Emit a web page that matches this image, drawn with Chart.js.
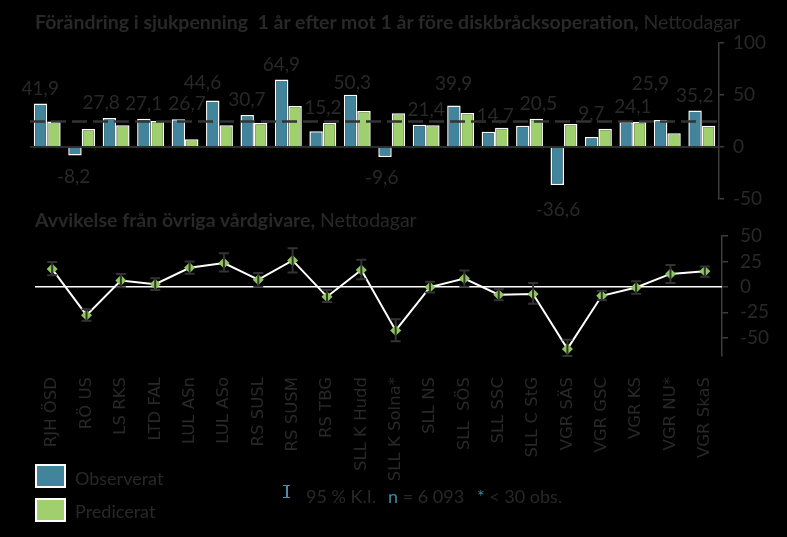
<!DOCTYPE html>
<html>
<head>
<meta charset="utf-8">
<script src="https://cdn.jsdelivr.net/npm/chart.js@4.4.1/dist/chart.umd.min.js"></script>
<style>
  html, body { margin: 0; padding: 0; background: #000; }
  #wrap { position: relative; width: 787px; height: 537px; background: #000; overflow: hidden;
          font-family: Lato, sans-serif; color: #282828; }
  canvas { position: absolute; left: 0; }
  .txt { position: absolute; white-space: pre; line-height: 1; font-size: 18px; }
  .head { font-size: 19.5px; }
  .box { position: absolute; left: 35px; width: 27px; height: 20px; border: 2px solid #fff; }
  .blue { color: #3f86a0; }
  .ci { position: absolute; left: 283px; top: 485px; width: 7px; height: 11px;
        border-top: 1.5px solid #4a8da8; border-bottom: 1.5px solid #4a8da8; }
  .ci::after { content: ''; position: absolute; left: 3px; top: 0; width: 1.5px; height: 11px; background: #4a8da8; }
</style>
</head>
<body>
<div id="wrap">
  <canvas id="top" width="787" height="230" style="top:0"></canvas>
  <canvas id="bottom" width="787" height="327" style="top:210px"></canvas>

  <div class="txt head" style="left:35px;top:12px"><b>Förändring i sjukpenning  1 år efter mot 1 år före diskbråcksoperation,</b> Nettodagar</div>
  <div class="txt head" style="left:35px;top:210px"><b>Avvikelse från övriga vårdgivare,</b> Nettodagar</div>

  <div class="box" style="top:464px;background:#41849b"></div>
  <div class="txt" style="left:75px;top:469px">Observerat</div>
  <div class="box" style="top:498px;background:#9fd06d"></div>
  <div class="txt" style="left:75px;top:502px">Predicerat</div>

  <div class="ci"></div>
  <div class="txt" style="left:306px;top:487px">95 % K.I.</div>
  <div class="txt" style="left:388px;top:487px"><span class="blue">n</span> = 6 093</div>
  <div class="txt" style="left:477px;top:487px"><span class="blue">*</span> &lt; 30 obs.</div>
</div>

<script>
// Enheter (vårdgivare)
var units = ['RJH ÖSD', 'RÖ US', 'LS RKS', 'LTD FAL', 'LUL ASn', 'LUL ASo', 'RS SUSL', 'RS SUSM',
             'RS TBG', 'SLL K Hudd', 'SLL K Solna*', 'SLL NS', 'SLL  SÖS', 'SLL SSC', 'SLL C StG',
             'VGR SÄS', 'VGR GSC', 'VGR KS', 'VGR NU*', 'VGR SkaS'];

// Förändring i sjukpenning, nettodagar
var observed  = [41.9, -8.2, 27.8, 27.1, 26.7, 44.6, 30.7, 64.9, 15.2, 50.3,
                 -9.6, 21.4, 39.9, 14.7, 20.5, -36.6, 9.7, 24.1, 25.9, 35.2];
var predicted = [24.6, 17.2, 21.0, 25.0, 7.4, 21.0, 23.0, 39.5, 23.0, 34.6,
                 32.4, 21.0, 32.7, 18.4, 27.2, 22.0, 17.5, 24.0, 13.3, 20.4];
var overallMean = 24.6;   // streckad referenslinje

// Avvikelse från övriga vårdgivare med 95 % K.I.
var deviation = [17.5, -27.9, 6.2, 2.6, 18.8, 23.4, 7.1, 26.0, -9.7, 16.6,
                 -42.9, -0.3, 8.1, -7.8, -7.1, -61.0, -8.8, -0.6, 12.7, 15.3];
var ciLow  = [11.4, -33.4, -0.3, -3.2, 13.0, 15.0, 0.0, 14.0, -15.0, 7.5,
              -53.6, -5.5, 0.0, -13.3, -16.5, -68.0, -13.0, -6.8, 3.9, 10.0];
var ciHigh = [24.4, -22.0, 12.7, 8.4, 25.0, 33.0, 13.6, 38.0, -3.0, 26.6,
              -31.8, 5.0, 16.0, -2.3, 3.9, -52.0, -4.2, 5.5, 21.4, 20.0];

var topTicks = [100, 50, 0, -50];
var bottomTicks = [50, 25, 0, -25, -50];

// handflyttade etiketter i originalet: förskjutning [dx, dy] i pixlar
var labelNudge = [[-7, 0], [-8, 0], [-15, 0], [-7, 0], [2, 0], [-17, -3], [-7, 0], [-7, 0], [0, 0], [-5, 3],
                  [-10, 0], [0, 0], [-7, -7], [0, 3], [9, 0], [-6, 4], [-7, 0], [0, 0], [-17, -21], [-7, 0]];

var TEXT = '#282828';
var AXIS = '#3d3d3d';
var BLUE = '#41849b';
var GREEN = '#9fd06d';

function fmt(v) {
    return String(v.toFixed(1)).replace('.', ',');
}

// Nollinje, streckad medellinje och värdeetiketter i övre diagrammet
var topDecor = {
    id: 'topDecor',
    afterDatasetsDraw: function(chart) {
        var ctx = chart.ctx, area = chart.chartArea, y = chart.scales.y;
        ctx.save();
        ctx.strokeStyle = AXIS;
        ctx.lineWidth = 1.5;
        ctx.beginPath();
        ctx.moveTo(area.left, y.getPixelForValue(0));
        ctx.lineTo(area.right, y.getPixelForValue(0));
        ctx.stroke();

        ctx.strokeStyle = '#333';
        ctx.lineWidth = 2.5;
        ctx.setLineDash([15, 6]);
        ctx.beginPath();
        ctx.moveTo(area.left, y.getPixelForValue(overallMean));
        ctx.lineTo(area.right, y.getPixelForValue(overallMean));
        ctx.stroke();
        ctx.setLineDash([]);

        var obs = chart.getDatasetMeta(0).data;
        var pred = chart.getDatasetMeta(1).data;
        ctx.fillStyle = TEXT;
        ctx.font = '19px Lato';
        ctx.textAlign = 'center';
        ctx.textBaseline = 'middle';
        for (var i = 0; i < observed.length; i++) {
            var x = (obs[i].x + pred[i].x) / 2 + labelNudge[i][0];
            var ly;
            if (observed[i] >= 0) {
                ly = Math.min(obs[i].y, pred[i].y) - 15;
            } else {
                ly = obs[i].y + 21;
            }
            ctx.fillText(fmt(observed[i]), x, ly + labelNudge[i][1]);
        }
        ctx.restore();
    }
};

// Vit nollinje och felstaplar i nedre diagrammet
var bottomDecor = {
    id: 'bottomDecor',
    beforeDatasetsDraw: function(chart) {
        var ctx = chart.ctx, area = chart.chartArea, y = chart.scales.y;
        ctx.save();
        ctx.strokeStyle = '#fff';
        ctx.lineWidth = 1.5;
        ctx.beginPath();
        ctx.moveTo(area.left, y.getPixelForValue(0));
        ctx.lineTo(area.right, y.getPixelForValue(0));
        ctx.stroke();
        ctx.restore();
    },
    afterDatasetsDraw: function(chart) {
        var ctx = chart.ctx, y = chart.scales.y;
        var pts = chart.getDatasetMeta(0).data;
        ctx.save();
        ctx.strokeStyle = '#333';
        ctx.lineWidth = 2;
        for (var i = 0; i < pts.length; i++) {
            var x = pts[i].x;
            var y1 = y.getPixelForValue(ciLow[i]);
            var y2 = y.getPixelForValue(ciHigh[i]);
            ctx.beginPath();
            ctx.moveTo(x, y1); ctx.lineTo(x, y2);
            ctx.moveTo(x - 5, y1); ctx.lineTo(x + 5, y1);
            ctx.moveTo(x - 5, y2); ctx.lineTo(x + 5, y2);
            ctx.stroke();
        }
        ctx.restore();
    }
};

new Chart(document.getElementById('top'), {
    type: 'bar',
    data: {
        labels: units,
        datasets: [
            { label: 'Observerat', data: observed, backgroundColor: BLUE, borderColor: '#fff', borderWidth: 1.5 },
            { label: 'Predicerat', data: predicted, backgroundColor: GREEN, borderColor: '#fff', borderWidth: 1.5 }
        ]
    },
    options: {
        responsive: false,
        animation: false,
        layout: { padding: { left: 30, right: 8, top: 43, bottom: 31 } },
        datasets: { bar: { categoryPercentage: 0.78, barPercentage: 1 } },
        plugins: { legend: { display: false }, tooltip: { enabled: false } },
        scales: {
            x: { display: false },
            y: {
                position: 'right',
                min: -50,
                max: 100,
                afterBuildTicks: function(s) { s.ticks = topTicks.map(function(v) { return { value: v }; }); },
                ticks: { color: TEXT, font: { family: 'Lato', size: 19 }, padding: 9 },
                grid: { drawOnChartArea: false, tickLength: 5, color: AXIS, lineWidth: 1.5 },
                border: { color: AXIS, width: 1.5 },
                afterFit: function(s) { s.width = 60; }
            }
        }
    },
    plugins: [topDecor]
});

new Chart(document.getElementById('bottom'), {
    type: 'line',
    data: {
        labels: units,
        datasets: [{
            data: deviation,
            borderColor: '#fff',
            borderWidth: 2,
            tension: 0,
            pointStyle: 'rectRot',
            pointRadius: 5.5,
            pointBackgroundColor: '#8fc75c',
            pointBorderWidth: 0
        }]
    },
    options: {
        responsive: false,
        animation: false,
        layout: { padding: { left: 35, right: 5, top: 26, bottom: 50 } },
        plugins: { legend: { display: false }, tooltip: { enabled: false } },
        scales: {
            x: {
                offset: true,
                ticks: {
                    autoSkip: false, minRotation: 90, maxRotation: 90, padding: 21,
                    color: TEXT, font: { family: 'DejaVu Sans', size: 16.5 }
                },
                grid: { display: false, drawTicks: false },
                border: { display: false },
                afterFit: function(s) { s.height = 131; }
            },
            y: {
                position: 'right',
                min: -68,
                max: 50,
                afterBuildTicks: function(s) { s.ticks = bottomTicks.map(function(v) { return { value: v }; }); },
                ticks: { color: TEXT, font: { family: 'Lato', size: 19 }, padding: 12 },
                grid: { drawOnChartArea: false, tickLength: 6, color: AXIS, lineWidth: 1.5 },
                border: { color: AXIS, width: 1.5 },
                afterFit: function(s) { s.width = 60; }
            }
        }
    },
    plugins: [bottomDecor]
});
</script>
</body>
</html>
